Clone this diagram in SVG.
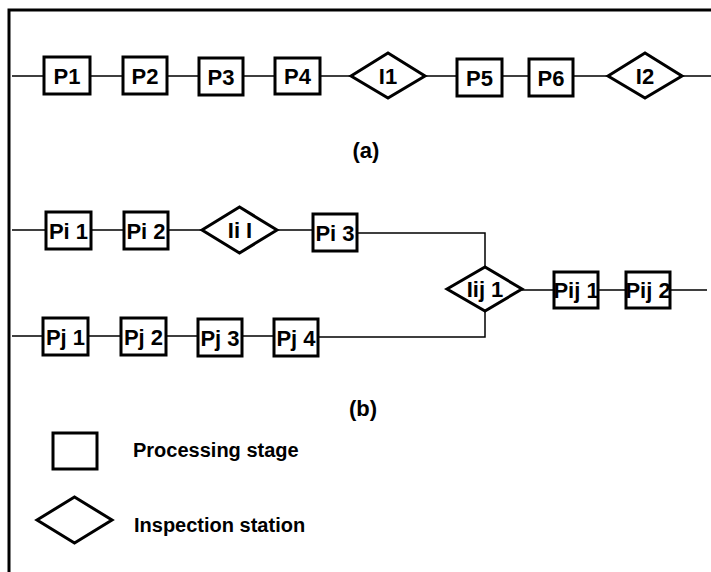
<svg xmlns="http://www.w3.org/2000/svg" width="711" height="572" viewBox="0 0 711 572">
<style>
  .box { fill: #fff; stroke: #000; stroke-width: 3; }
  .dia { fill: #fff; stroke: #000; stroke-width: 3; stroke-linejoin: miter; }
  .ln { fill: none; stroke: #000; stroke-width: 1.5; }
  .frame { fill: none; stroke: #000; stroke-width: 3; }
  .lbl { font-family: "Liberation Sans", Arial, sans-serif; font-weight: bold; font-size: 22px; fill: #000; text-anchor: middle; }
  .cap { font-family: "Liberation Sans", Arial, sans-serif; font-weight: bold; font-size: 20px; fill: #000; }
  .sec { font-family: "Liberation Sans", Arial, sans-serif; font-weight: bold; font-size: 22px; fill: #000; text-anchor: middle; }
</style>
<rect width="711" height="572" fill="#fff"/>
<path class="frame" d="M9,572 V10 H711"/>

<g id="connectors">
  <path class="ln" d="M12,76 H44 M90,76 H123 M167,76 H199 M243,76 H275 M320,76 H351 M425,76 H457 M502,76 H529 M573,76 H608 M682,76 H711"/>
  <path class="ln" d="M12,230 H46 M91,230 H124 M168,230 H202 M277,230 H313"/>
  <path class="ln" d="M357,233 H485 V267"/>
  <path class="ln" d="M12,336 H43 M88,336 H121 M166,336 H198 M242,336 H274"/>
  <path class="ln" d="M318,337 H485 V311"/>
  <path class="ln" d="M522,290 H554 M598,290 H626 M670,290 H707"/>
</g>

<g id="P1"><rect class="box" x="44" y="57" width="46" height="37"/><text class="lbl" x="67" y="83.5">P1</text></g>
<g id="P2"><rect class="box" x="123" y="57" width="44" height="37"/><text class="lbl" x="145" y="83.5">P2</text></g>
<g id="P3"><rect class="box" x="199" y="58" width="44" height="37"/><text class="lbl" x="221" y="84.5">P3</text></g>
<g id="P4"><rect class="box" x="275" y="58" width="45" height="36"/><text class="lbl" x="297.5" y="84">P4</text></g>
<g id="I1"><polygon class="dia" points="351,76 388,53 425,76 388,98"/><text class="lbl" x="388" y="84">I1</text></g>
<g id="P5"><rect class="box" x="457" y="59" width="45" height="37"/><text class="lbl" x="479.5" y="85.5">P5</text></g>
<g id="P6"><rect class="box" x="529" y="59" width="44" height="37"/><text class="lbl" x="551" y="85.5">P6</text></g>
<g id="I2"><polygon class="dia" points="608,76 645,53 682,76 645,98"/><text class="lbl" x="645" y="84">I2</text></g>

<text class="sec" x="366" y="158">(a)</text>

<g id="Pi1"><rect class="box" x="46" y="212" width="45" height="37"/><text class="lbl" x="68.5" y="238.5">Pi 1</text></g>
<g id="Pi2"><rect class="box" x="124" y="212" width="44" height="37"/><text class="lbl" x="146" y="238.5">Pi 2</text></g>
<g id="IiI"><polygon class="dia" points="202,230 239.5,207 277,230 239.5,253"/><text class="lbl" x="240" y="238">Ii I</text></g>
<g id="Pi3"><rect class="box" x="313" y="214" width="44" height="37"/><text class="lbl" x="335" y="240.5">Pi 3</text></g>
<g id="Iij1"><polygon class="dia" points="447,289 485,267 522,289 485,311"/><text class="lbl" x="485" y="297">Iij 1</text></g>
<g id="Pij1"><rect class="box" x="554" y="272" width="44" height="36"/><text class="lbl" x="576" y="298">Pij 1</text></g>
<g id="Pij2"><rect class="box" x="626" y="272" width="44" height="36"/><text class="lbl" x="648" y="298">Pij 2</text></g>
<g id="Pj1"><rect class="box" x="43" y="318" width="45" height="37"/><text class="lbl" x="65.5" y="344.5">Pj 1</text></g>
<g id="Pj2"><rect class="box" x="121" y="318" width="45" height="37"/><text class="lbl" x="143.5" y="344.5">Pj 2</text></g>
<g id="Pj3"><rect class="box" x="198" y="319" width="44" height="37"/><text class="lbl" x="220" y="345.5">Pj 3</text></g>
<g id="Pj4"><rect class="box" x="274" y="319" width="44" height="37"/><text class="lbl" x="296" y="345.5">Pj 4</text></g>

<text class="sec" x="363" y="416">(b)</text>

<g id="legend-box"><rect class="box" x="53" y="433" width="44" height="36" stroke-width="2.5"/><text class="cap" x="133" y="457">Processing stage</text></g>
<g id="legend-diamond"><polygon class="dia" points="37,520 74.5,497 112,520 74.5,543" stroke-width="2.5"/><text class="cap" x="134" y="532">Inspection station</text></g>
</svg>
